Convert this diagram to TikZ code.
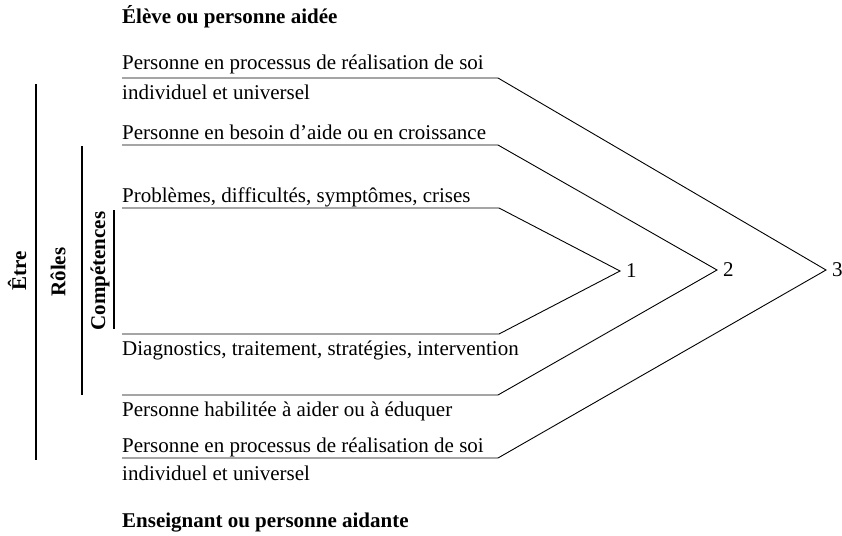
\documentclass[tikz,border=0pt]{standalone}
\usepackage{fontspec}
\setmainfont{Liberation Serif}
\begin{document}
\begin{tikzpicture}[x=1pt,y=-1pt,
  txt/.style={anchor=base west,inner sep=0pt,font=\fontsize{21}{25}\selectfont},
  ttl/.style={anchor=base west,inner sep=0pt,font=\fontsize{21}{25}\selectfont\bfseries},
  vlab/.style={rotate=90,inner sep=0pt,font=\fontsize{21}{25}\selectfont\bfseries},
  num/.style={anchor=west,inner sep=0pt,font=\fontsize{21}{25}\selectfont},
  ln/.style={line width=0.9pt,line join=miter},
  bar/.style={line width=2pt}]
\useasboundingbox (0,0) rectangle (842,535);

% titles
\node[ttl] (top) at (122,24) {Élève ou personne aidée};
\node[ttl] (bot) at (122,527) {Enseignant ou personne aidante};

% texts
\node[txt] (t3a) at (122,69) {Personne en processus de réalisation de soi};
\node[txt] (t3a2) at (122,99) {individuel et universel};
\node[txt] (t2a) at (122,139) {Personne en besoin d’aide ou en croissance};
\node[txt] (t1a) at (122,202) {Problèmes, difficultés, symptômes, crises};
\node[txt] (t1b) at (122,355) {Diagnostics, traitement, stratégies, intervention};
\node[txt] (t2b) at (122,416) {Personne habilitée à aider ou à éduquer};
\node[txt] (t3b) at (122,452) {Personne en processus de réalisation de soi};
\node[txt] (t3b2) at (122,480) {individuel et universel};

% vertices and numbers
\coordinate (v1) at (620,271);
\coordinate (v2) at (717,270);
\coordinate (v3) at (826,270);
\node[num] (n1) at (626,271) {1};
\node[num] (n2) at (723,270) {2};
\node[num] (n3) at (832,270) {3};

% line corners
\coordinate (a3s) at (122,78);  \coordinate (a3e) at (498,78);
\coordinate (a2s) at (122,145); \coordinate (a2e) at (498,145);
\coordinate (a1s) at (122,208); \coordinate (a1e) at (499,208);
\coordinate (b1s) at (122,334); \coordinate (b1e) at (499,334);
\coordinate (b2s) at (122,395); \coordinate (b2e) at (498,395);
\coordinate (b3s) at (122,458); \coordinate (b3e) at (498,458);

\draw[ln] (a3s) -- (a3e) -- (v3) -- (b3e) -- (b3s);
\draw[ln] (a2s) -- (a2e) -- (v2) -- (b2e) -- (b2s);
\draw[ln] (a1s) -- (a1e) -- (v1) -- (b1e) -- (b1s);

% left bars and labels
\coordinate (e1) at (36,84);  \coordinate (e2) at (36,460);
\coordinate (r1) at (82,146); \coordinate (r2) at (82,395);
\coordinate (c1) at (114,210); \coordinate (c2) at (114,329);
\draw[bar] (e1) -- (e2);
\draw[bar] (r1) -- (r2);
\draw[bar] (c1) -- (c2);
\node[vlab] (etre) at (17,271) {Être};
\node[vlab] (roles) at (58,272) {Rôles};
\node[vlab] (comp) at (100,271) {Compétences};
\end{tikzpicture}
\end{document}
